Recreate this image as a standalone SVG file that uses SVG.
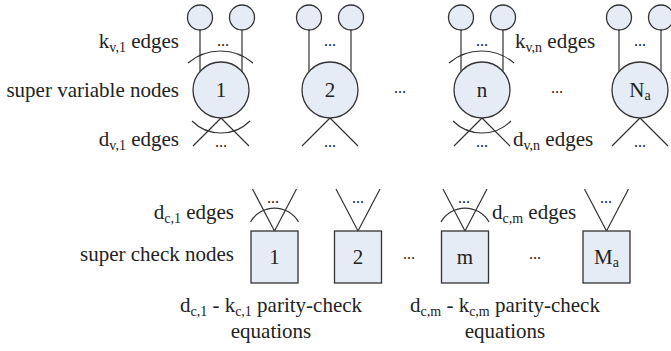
<svg xmlns="http://www.w3.org/2000/svg" width="671" height="351" viewBox="0 0 671 351">
<style>
text{font-family:"Liberation Serif","Times New Roman",serif;font-size:21px;fill:#222}
.sub{font-size:14px}
.dots{font-size:16px}
.node{fill:#E6ECF6;stroke:#333;stroke-width:1.3}
.ln{fill:none;stroke:#333;stroke-width:1.2}
</style>
<rect width="671" height="351" fill="#fff"/>
<g id="labels">
<text x="179" y="48" text-anchor="end">k<tspan class="sub" dy="4">v,1</tspan><tspan dy="-4"> edges</tspan></text>
<text x="179" y="97" text-anchor="end">super variable nodes</text>
<text x="179" y="146" text-anchor="end">d<tspan class="sub" dy="4">v,1</tspan><tspan dy="-4"> edges</tspan></text>
<text x="515" y="48">k<tspan class="sub" dy="4">v,n</tspan><tspan dy="-4"> edges</tspan></text>
<text x="513" y="146">d<tspan class="sub" dy="4">v,n</tspan><tspan dy="-4"> edges</tspan></text>
<text x="234" y="219" text-anchor="end">d<tspan class="sub" dy="4">c,1</tspan><tspan dy="-4"> edges</tspan></text>
<text x="234" y="261" text-anchor="end">super check nodes</text>
<text x="492" y="219">d<tspan class="sub" dy="4">c,m</tspan><tspan dy="-4"> edges</tspan></text>
<text x="271" y="312" text-anchor="middle">d<tspan class="sub" dy="4">c,1</tspan><tspan dy="-4"> - k</tspan><tspan class="sub" dy="4">c,1</tspan><tspan dy="-4"> parity-check</tspan></text>
<text x="271" y="338" text-anchor="middle">equations</text>
<text x="505" y="312" text-anchor="middle">d<tspan class="sub" dy="4">c,m</tspan><tspan dy="-4"> - k</tspan><tspan class="sub" dy="4">c,m</tspan><tspan dy="-4"> parity-check</tspan></text>
<text x="505" y="338" text-anchor="middle">equations</text>
<text class="dots" x="400" y="93" text-anchor="middle">...</text>
<text class="dots" x="557" y="93" text-anchor="middle">...</text>
<text class="dots" x="409" y="259" text-anchor="middle">...</text>
<text class="dots" x="535" y="259" text-anchor="middle">...</text>
</g>
<g id="connectors">
<path class="ln" d="M200,30V71.5M242,30V71.5M221,118L193,146M221,118L249,146"/>
<path class="ln" d="M188,63A50,50 0 0 1 253,63"/>
<path class="ln" d="M192,121A41,41 0 0 0 250,121"/>
<path class="ln" d="M309,30V71.5M351,30V71.5M330,118L302,146M330,118L358,146"/>
<path class="ln" d="M461,30V71.5M503,30V71.5M482,118L454,146M482,118L510,146"/>
<path class="ln" d="M449,63A50,50 0 0 1 514,63"/>
<path class="ln" d="M453,121A41,41 0 0 0 511,121"/>
<path class="ln" d="M619,30V71.5M661,30V71.5M640,118L612,146M640,118L668,146"/>
<path class="ln" d="M252.5,189L274.5,231L296.5,189"/>
<path class="ln" d="M250.5,222A27.6,27.6 0 0 1 298.5,222"/>
<path class="ln" d="M336,189L358,231L380,189"/>
<path class="ln" d="M443,189L465,231L487,189"/>
<path class="ln" d="M441,222A27.6,27.6 0 0 1 489,222"/>
<path class="ln" d="M584.5,189L606.5,231L628.5,189"/>
<text class="dots" x="223" y="46" text-anchor="middle">...</text>
<text class="dots" x="221" y="147" text-anchor="middle">...</text>
<text class="dots" x="330" y="46" text-anchor="middle">...</text>
<text class="dots" x="330" y="147" text-anchor="middle">...</text>
<text class="dots" x="482" y="46" text-anchor="middle">...</text>
<text class="dots" x="482" y="147" text-anchor="middle">...</text>
<text class="dots" x="640" y="46" text-anchor="middle">...</text>
<text class="dots" x="640" y="147" text-anchor="middle">...</text>
<text class="dots" x="273" y="203" text-anchor="middle">...</text>
<text class="dots" x="358" y="203" text-anchor="middle">...</text>
<text class="dots" x="464" y="203" text-anchor="middle">...</text>
<text class="dots" x="606" y="203" text-anchor="middle">...</text>
</g>
<g id="v1"><circle class="node" cx="200" cy="17.5" r="12.5"/><circle class="node" cx="242" cy="17.5" r="12.5"/><circle class="node" cx="221" cy="90" r="28"/><text x="221" y="97" text-anchor="middle">1</text></g>
<g id="v2"><circle class="node" cx="309" cy="17.5" r="12.5"/><circle class="node" cx="351" cy="17.5" r="12.5"/><circle class="node" cx="330" cy="90" r="28"/><text x="330" y="97" text-anchor="middle">2</text></g>
<g id="vn"><circle class="node" cx="461" cy="17.5" r="12.5"/><circle class="node" cx="503" cy="17.5" r="12.5"/><circle class="node" cx="482" cy="90" r="28"/><text x="482" y="97" text-anchor="middle">n</text></g>
<g id="vNa"><circle class="node" cx="619" cy="17.5" r="12.5"/><circle class="node" cx="661" cy="17.5" r="12.5"/><circle class="node" cx="640" cy="90" r="28"/><text x="640" y="97" text-anchor="middle">N<tspan class="sub" dy="3">a</tspan></text></g>
<g id="c1"><rect class="node" x="251" y="231" width="47" height="52"/><text x="274.5" y="264" text-anchor="middle">1</text></g>
<g id="c2"><rect class="node" x="334.5" y="231" width="47" height="52"/><text x="358" y="264" text-anchor="middle">2</text></g>
<g id="cm"><rect class="node" x="441.5" y="231" width="47" height="52"/><text x="465" y="264" text-anchor="middle">m</text></g>
<g id="cMa"><rect class="node" x="583" y="231" width="47" height="52"/><text x="606.5" y="264" text-anchor="middle">M<tspan class="sub" dy="3">a</tspan></text></g>
</svg>
